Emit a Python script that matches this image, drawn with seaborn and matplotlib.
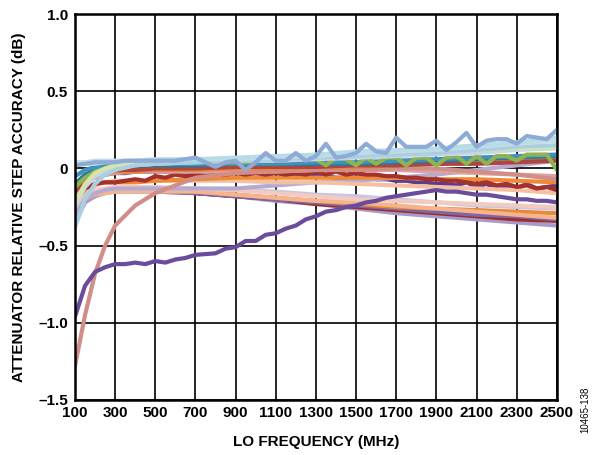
import numpy as np
import pandas as pd
import matplotlib
matplotlib.use("Agg")
import matplotlib.pyplot as plt
import seaborn as sns

# ---------------- data ----------------
# coarse frequency grid (MHz) for smooth traces
freq_s = [100, 150, 200, 250, 300, 400, 500, 700, 900, 1100, 1300, 1500, 1700, 1900, 2100, 2300, 2500]
# fine frequency grid (MHz) for jagged traces
freq_j = list(range(100, 2501, 50))

# smooth traces (dB)
lb1 = [0.04, 0.04, 0.05, 0.05, 0.05, 0.05, 0.06, 0.06, 0.06, 0.07, 0.08, 0.10, 0.11, 0.12, 0.14, 0.16, 0.18]
lb2 = [-0.38, -0.20, -0.10, -0.04, -0.01, 0.02, 0.03, 0.04, 0.05, 0.06, 0.07, 0.08, 0.09, 0.10, 0.12, 0.14, 0.15]
ygreen = [-0.22, -0.10, -0.03, 0.00, 0.02, 0.04, 0.05, 0.06, 0.06, 0.07, 0.08, 0.09, 0.10, 0.11, 0.12, 0.13, 0.14]
teal = [-0.05, -0.01, 0.01, 0.02, 0.02, 0.03, 0.03, 0.03, 0.03, 0.03, 0.04, 0.04, 0.05, 0.06, 0.07, 0.08, 0.09]
dteal = [-0.10, -0.04, -0.01, 0.00, 0.01, 0.02, 0.02, 0.02, 0.03, 0.03, 0.03, 0.03, 0.04, 0.05, 0.06, 0.07, 0.08]
cyan = [0.02, 0.03, 0.03, 0.04, 0.04, 0.05, 0.05, 0.06, 0.07, 0.08, 0.09, 0.11, 0.12, 0.13, 0.15, 0.17, 0.20]
lgblue = [-0.25, -0.12, -0.05, -0.02, 0.00, 0.02, 0.03, 0.04, 0.05, 0.05, 0.06, 0.07, 0.08, 0.09, 0.10, 0.12, 0.13]
red_up = [-0.15, -0.08, -0.04, -0.02, -0.01, -0.01, 0.00, 0.00, 0.01, 0.01, 0.01, 0.02, 0.02, 0.03, 0.03, 0.04, 0.05]
orange_up = [-0.12, -0.07, -0.04, -0.03, -0.02, -0.02, -0.01, -0.01, 0.00, 0.00, 0.01, 0.01, 0.02, 0.03, 0.04, 0.05, 0.06]
rose = [-1.28, -0.95, -0.68, -0.50, -0.37, -0.24, -0.16, -0.06, -0.03, -0.02, -0.01, -0.01, 0.00, 0.00, -0.02, -0.04, -0.07]
pink2 = [-0.20, -0.10, -0.06, -0.04, -0.03, -0.02, -0.02, -0.02, -0.02, -0.02, -0.01, -0.01, -0.01, -0.02, -0.03, -0.04, -0.05]
lav_rise = [-0.30, -0.20, -0.16, -0.14, -0.13, -0.13, -0.13, -0.13, -0.13, -0.11, -0.09, -0.08, -0.06, -0.04, -0.01, 0.02, 0.05]
peach_mid = [-0.25, -0.15, -0.11, -0.09, -0.08, -0.08, -0.08, -0.08, -0.08, -0.09, -0.09, -0.10, -0.11, -0.12, -0.13, -0.14, -0.16]
orange_mid = [-0.20, -0.12, -0.10, -0.09, -0.09, -0.09, -0.08, -0.07, -0.06, -0.06, -0.06, -0.06, -0.06, -0.07, -0.07, -0.08, -0.09]
dred_low = [-0.30, -0.20, -0.17, -0.15, -0.14, -0.14, -0.14, -0.16, -0.18, -0.20, -0.23, -0.25, -0.27, -0.29, -0.31, -0.33, -0.34]
orange_low = [-0.28, -0.19, -0.16, -0.15, -0.14, -0.14, -0.14, -0.15, -0.17, -0.19, -0.21, -0.23, -0.25, -0.26, -0.27, -0.28, -0.29]
lav_low = [-0.35, -0.22, -0.18, -0.16, -0.15, -0.15, -0.15, -0.16, -0.18, -0.21, -0.23, -0.26, -0.29, -0.31, -0.33, -0.35, -0.37]
llav_low = [-0.28, -0.18, -0.15, -0.14, -0.13, -0.13, -0.13, -0.13, -0.14, -0.15, -0.17, -0.18, -0.20, -0.22, -0.24, -0.25, -0.26]
peach_low = [-0.30, -0.20, -0.17, -0.16, -0.15, -0.15, -0.15, -0.15, -0.17, -0.19, -0.21, -0.22, -0.24, -0.26, -0.28, -0.30, -0.32]
lpink_low = [-0.26, -0.17, -0.14, -0.13, -0.12, -0.12, -0.12, -0.13, -0.14, -0.16, -0.18, -0.20, -0.21, -0.22, -0.23, -0.24, -0.25]
purple_low = [-0.30, -0.20, -0.16, -0.15, -0.14, -0.14, -0.15, -0.16, -0.18, -0.20, -0.22, -0.24, -0.26, -0.28, -0.30, -0.31, -0.33]

# jagged traces (dB), 50 MHz steps
blue_jag = [0.02, 0.03, 0.04, 0.04, 0.04, 0.05, 0.05, 0.05, 0.05, 0.05, 0.05, 0.06, 0.07, 0.04, 0.01, 0.04, 0.05,
            -0.01, 0.04, 0.10, 0.05, 0.05, 0.10, 0.05, 0.08, 0.16, 0.07, 0.08, 0.10, 0.16, 0.11, 0.10, 0.20,
            0.14, 0.14, 0.14, 0.18, 0.12, 0.17, 0.23, 0.14, 0.18, 0.19, 0.19, 0.16, 0.21, 0.20, 0.19, 0.25]
green_jag = [-0.12, -0.06, -0.02, 0.00, 0.02, 0.03, 0.03, 0.04, 0.04, 0.04, 0.04, 0.04, 0.04, 0.04, 0.04, 0.04, 0.04,
             0.04, 0.05, 0.05, 0.05, 0.05, 0.06, 0.06, 0.06, 0.02, 0.07, 0.06, 0.02, 0.07, 0.03, 0.07, 0.07,
             0.02, 0.07, 0.07, 0.02, 0.07, 0.08, 0.03, 0.08, 0.03, 0.08, 0.08, 0.05, 0.09, 0.09, 0.09, -0.01]
purple_long = [-0.96, -0.76, -0.67, -0.64, -0.62, -0.62, -0.61, -0.62, -0.60, -0.61, -0.59, -0.58, -0.56, -0.555, -0.55, -0.52, -0.51,
               -0.47, -0.47, -0.43, -0.42, -0.39, -0.37, -0.33, -0.31, -0.28, -0.27, -0.25, -0.24, -0.22, -0.21, -0.19, -0.18,
               -0.17, -0.16, -0.15, -0.14, -0.15, -0.15, -0.16, -0.17, -0.17, -0.18, -0.19, -0.20, -0.20, -0.21, -0.21, -0.22]
purple_jag = [-0.16, -0.09, -0.06, -0.04, -0.03, -0.03, -0.02, -0.02, -0.02, -0.02, -0.02, -0.02, -0.02, -0.02, -0.02, -0.02, -0.02,
              -0.03, -0.03, -0.03, -0.03, -0.03, -0.04, -0.04, -0.05, -0.05, -0.06, -0.06, -0.06, -0.05, -0.07, -0.07, -0.08,
              -0.08, -0.09, -0.09, -0.10, -0.10, -0.11, -0.09, -0.12, -0.10, -0.13, -0.11, -0.13, -0.10, -0.13, -0.12, -0.11]
dred_jag = [-0.22, -0.13, -0.10, -0.09, -0.09, -0.08, -0.07, -0.08, -0.05, -0.06, -0.04, -0.05, -0.04, -0.05, -0.04, -0.04, -0.03,
            -0.04, -0.03, -0.04, -0.03, -0.04, -0.03, -0.04, -0.02, -0.04, -0.02, -0.04, -0.03, -0.04, -0.04, -0.05, -0.05,
            -0.06, -0.06, -0.07, -0.07, -0.08, -0.08, -0.09, -0.10, -0.09, -0.11, -0.10, -0.12, -0.11, -0.13, -0.12, -0.14]

# (name, x grid, values, colour) in drawing order: first drawn ends up underneath
traces = [
    ("purple_jag", freq_j, purple_jag, "#5c3d8d"),
    ("lav_low", freq_s, lav_low, "#a99bc9"),
    ("dred_low", freq_s, dred_low, "#9c2e2b"),
    ("purple_low", freq_s, purple_low, "#7d66aa"),
    ("orange_low", freq_s, orange_low, "#e98a3a"),
    ("peach_low", freq_s, peach_low, "#f6b48c"),
    ("llav_low", freq_s, llav_low, "#cdc5df"),
    ("lpink_low", freq_s, lpink_low, "#f1cac2"),
    ("lav_rise", freq_s, lav_rise, "#b7aad2"),
    ("peach_mid", freq_s, peach_mid, "#f5c0a2"),
    ("orange_mid", freq_s, orange_mid, "#ee8a35"),
    ("dred_jag", freq_j, dred_jag, "#a5302e"),
    ("pink2", freq_s, pink2, "#dba3a0"),
    ("rose", freq_s, rose, "#d18d87"),
    ("orange_up", freq_s, orange_up, "#e8843c"),
    ("red_up", freq_s, red_up, "#ad4640"),
    ("dteal", freq_s, dteal, "#2b7b98"),
    ("teal", freq_s, teal, "#3e92bb"),
    ("green_jag", freq_j, green_jag, "#8db353"),
    ("lgblue", freq_s, lgblue, "#c7d5e4"),
    ("ygreen", freq_s, ygreen, "#d5e6ab"),
    ("lb2", freq_s, lb2, "#a9cfe1"),
    ("lb1", freq_s, lb1, "#c4dcea"),
    ("cyan", freq_s, cyan, "#b7dce6"),
    ("blue_jag", freq_j, blue_jag, "#8eaad6"),
    ("purple_long", freq_j, purple_long, "#6a4c9c"),
]

rows = []
palette = {}
order = []
for name, fx, vals, col in traces:
    for f, v in zip(fx, vals):
        rows.append((name, f, v))
    palette[name] = col
    order.append(name)
df = pd.DataFrame(rows, columns=["series", "freq", "acc"])

# ---------------- plot ----------------
sns.set_theme(style="white")
plt.rcParams["font.family"] = ["Liberation Sans", "DejaVu Sans"]
plt.rcParams["axes.unicode_minus"] = True

fig = plt.figure(figsize=(6.0, 4.55), dpi=100)
ax = fig.add_axes([0.125, 0.121, 0.803, 0.848])

sns.lineplot(data=df, x="freq", y="acc", hue="series", hue_order=order, palette=palette,
             estimator=None, sort=False, legend=False, linewidth=3.0, ax=ax, zorder=3)

ax.set_xlim(100, 2500)
ax.set_ylim(-1.5, 1.0)
xt = list(range(100, 2501, 200))
ax.set_xticks(xt)
ax.set_xticklabels([str(v) for v in xt])
yt = [-1.5, -1.0, -0.5, 0, 0.5, 1.0]
ylab = ["\u20131.5", "\u20131.0", "\u20130.5", "0", "0.5", "1.0"]
ax.set_yticks(yt)
ax.set_yticklabels(ylab)

ax.grid(True, color="black", linewidth=1.2, zorder=1)
ax.set_axisbelow(True)
for s in ax.spines.values():
    s.set_color("black")
    s.set_linewidth(1.8)
    s.set_zorder(5)

ax.tick_params(axis="both", length=0, labelsize=11, colors="black")
ax.tick_params(axis="x", pad=4)
ax.tick_params(axis="y", pad=5)
for lab in ax.get_xticklabels() + ax.get_yticklabels():
    lab.set_fontweight("bold")

ax.set_xlabel("LO FREQUENCY (MHz)", fontsize=11, fontweight="bold", labelpad=11, color="black")
ax.set_ylabel("ATTENUATOR RELATIVE STEP ACCURACY (dB)", fontsize=11, fontweight="bold",
              labelpad=9, color="black")

fig.text(0.975, 0.1, "10465-138", rotation=90, fontsize=7, ha="center", va="center", color="black")

fig.savefig("out.png", dpi=100)
